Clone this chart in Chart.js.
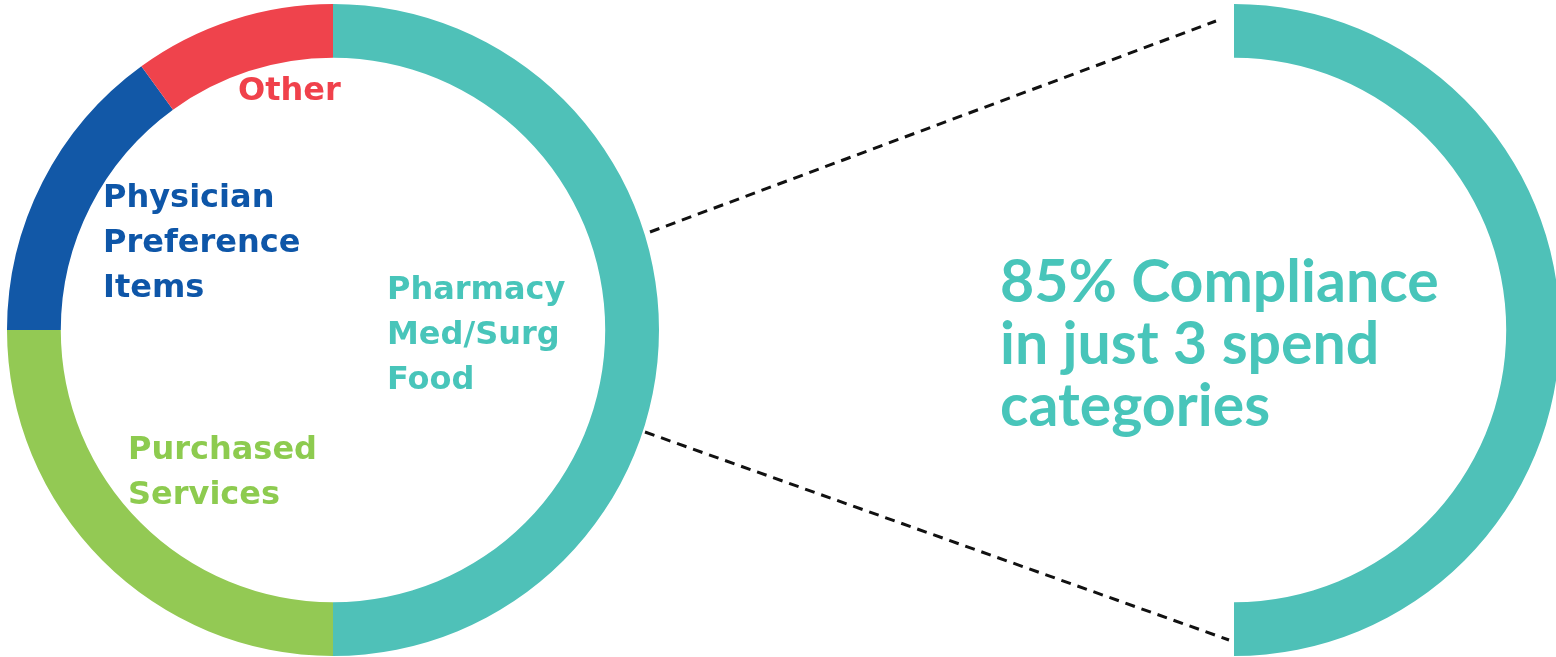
<!DOCTYPE html>
<html>
<head>
<meta charset="utf-8">
<script src="https://cdn.jsdelivr.net/npm/chart.js@4/dist/chart.umd.min.js"></script>
<style>
    html, body { margin: 0; padding: 0; background: #fff; overflow: hidden; }
    #stage { position: relative; width: 1556px; height: 657px; overflow: hidden; }
    .box { position: absolute; }
    .label { position: absolute; font-family: 'DejaVu Sans', sans-serif; font-weight: bold; font-size: 32px; line-height: 45px; white-space: nowrap; }
    .headline { position: absolute; font-family: 'Lato', sans-serif; font-weight: 700; font-size: 59px; line-height: 62px; white-space: nowrap; color: #48C5BA; }
</style>
</head>
<body>
<div id="stage">
    <div class="box" id="boxGeral" style="left:0;top:0;width:1556px;height:657px"><canvas id="chartGeral"></canvas></div>
    <div class="box" id="boxFoco" style="left:1234px;top:4px;width:326px;height:652px"><canvas id="chartFoco"></canvas></div>

    <div class="label" style="left:238px;top:67px;color:#F0414B">Other</div>
    <div class="label" style="left:103px;top:174px;color:#0E56A8">Physician<br>Preference<br>Items</div>
    <div class="label" style="left:387px;top:266px;color:#48C5BA">Pharmacy<br>Med/Surg<br>Food</div>
    <div class="label" style="left:128px;top:426px;color:#8DCB4F">Purchased<br>Services</div>

    <div class="headline" style="left:1000px;top:249px">85% Compliance<br>in just 3 spend<br>categories</div>
</div>

<script>
// fatias do gasto total (sentido horario a partir do topo)
const categorias = ['Pharmacy / Med/Surg / Food', 'Purchased Services', 'Physician Preference Items', 'Other']
const percentuais = [50, 25, 15, 10]
const cores = ['#4FC1B8', '#93C954', '#1258A7', '#EF434C']

// arco ampliado (so as 3 categorias com compliance)
const categoriaFoco = ['Pharmacy / Med/Surg / Food']
const percentualFoco = [50]

// linhas tracejadas ligando os dois graficos
const linhasZoom = {
    id: 'linhasZoom',
    afterDraw(chart) {
        const ctx = chart.ctx
        const segs = [
            [650, 232, 1216, 21],
            [645, 432, 1229, 640]
        ]
        ctx.save()
        ctx.strokeStyle = '#111'
        ctx.lineWidth = 3
        ctx.setLineDash([10, 7])
        segs.forEach(s => {
            ctx.beginPath()
            ctx.moveTo(s[0], s[1])
            ctx.lineTo(s[2], s[3])
            ctx.stroke()
        })
        ctx.restore()
    }
}

const opcoesBase = {
    responsive: true,
    maintainAspectRatio: false,
    animation: false,
    cutout: '83.5%',
    plugins: {
        legend: { display: false },
        tooltip: { enabled: false },
        title: { display: false }
    }
}

new Chart(document.getElementById('chartGeral'), {
    type: 'doughnut',
    data: {
        labels: categorias,
        datasets: [{
            data: percentuais,
            backgroundColor: cores,
            borderWidth: 0
        }]
    },
    options: {
        ...opcoesBase,
        layout: { padding: { left: 7, top: 4, right: 897, bottom: 1 } }
    },
    plugins: [linhasZoom]
})

new Chart(document.getElementById('chartFoco'), {
    type: 'doughnut',
    data: {
        labels: categoriaFoco,
        datasets: [{
            data: percentualFoco,
            backgroundColor: [cores[0]],
            borderWidth: 0
        }]
    },
    options: {
        ...opcoesBase,
        rotation: 0,
        circumference: 180
    }
})
</script>
</body>
</html>
